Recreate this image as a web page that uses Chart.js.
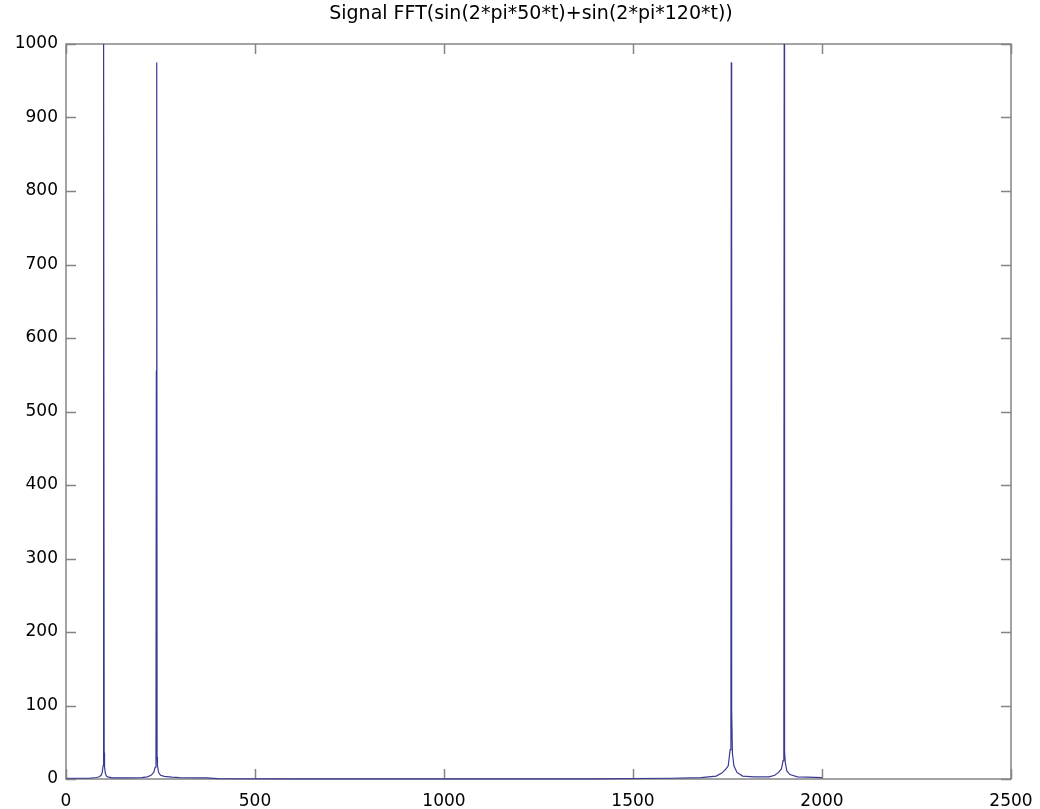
<!DOCTYPE html>
<html>
<head>
<meta charset="utf-8">
<script src="https://cdn.jsdelivr.net/npm/chart.js@4/dist/chart.umd.min.js"></script>
<style>
  html, body { margin: 0; padding: 0; background: #fff; }
  #wrap { width: 1040px; height: 809px; position: relative; }
</style>
</head>
<body>
<div id="wrap"><canvas id="fftChart"></canvas></div>
<script>
// FFT magnitude of sin(2*pi*50*t)+sin(2*pi*120*t), 2000 bins (only the bins where the shape changes)
const bins = [
  1, 60, 80, 88, 93, 96, 98, 99, 100, 101, 102, 104, 107, 112, 125, 160,
  200, 215, 225, 232, 236, 238, 239, 240, 241, 242, 245, 250, 260, 280, 300, 372,
  400, 600, 1000, 1400, 1600, 1680, 1720, 1735, 1745, 1752, 1757, 1759, 1760, 1761, 1763, 1767,
  1775, 1790, 1820, 1860, 1875, 1885, 1893, 1897, 1899, 1900, 1901, 1903, 1907, 1915, 1935, 1960, 2000
];
const magnitude = [
  1, 1, 2, 3, 5, 9, 18, 38, 1000, 36, 16, 8, 4, 2.5, 1.5, 1.5,
  2, 3, 5, 9, 16, 35, 555, 975, 30, 18, 9, 5, 3.5, 2.5, 2, 1.5,
  0.5, 0.3, 0.2, 0.3, 1, 2, 4, 8, 13, 18, 40, 100, 975, 95, 35, 18,
  9, 4, 3, 3, 5, 9, 14, 25, 37, 1000, 37, 22, 11, 6, 3, 2.5, 2
];

const titleText = 'Signal FFT(sin(2*pi*50*t)+sin(2*pi*120*t))';
const xTicks = [0, 500, 1000, 1500, 2000, 2500];
const yTicks = [0, 100, 200, 300, 400, 500, 600, 700, 800, 900, 1000];

const axisColor = '#858585';
const lineColor = 'rgb(58, 58, 145)';
const tickLen = 10;

const points = bins.map((b, i) => ({ x: b, y: magnitude[i] }));

// box around the axes with inward tick marks on all four sides, plus the title
const boxAxes = {
  id: 'boxAxes',
  beforeDatasetsDraw(chart) {
    const { ctx, chartArea: a, scales: { x, y } } = chart;
    ctx.save();
    ctx.strokeStyle = axisColor;
    ctx.lineWidth = 1.5;
    ctx.strokeRect(a.left, a.top, a.right - a.left, a.bottom - a.top);
    ctx.beginPath();
    xTicks.forEach(v => {
      const px = Math.round(x.getPixelForValue(v)) + 0.5;
      ctx.moveTo(px, a.bottom); ctx.lineTo(px, a.bottom - tickLen);
      ctx.moveTo(px, a.top); ctx.lineTo(px, a.top + tickLen);
    });
    yTicks.forEach(v => {
      const py = Math.round(y.getPixelForValue(v)) + 0.5;
      ctx.moveTo(a.left, py); ctx.lineTo(a.left + tickLen, py);
      ctx.moveTo(a.right, py); ctx.lineTo(a.right - tickLen, py);
    });
    ctx.stroke();

    ctx.fillStyle = '#000';
    ctx.font = '19px "DejaVu Sans"';
    ctx.textAlign = 'center';
    ctx.textBaseline = 'alphabetic';
    ctx.fillText(titleText, 531, 19);
    ctx.restore();
  }
};

const tickFont = { family: 'DejaVu Sans', size: 17 };

const ctx = document.getElementById('fftChart').getContext('2d');
new Chart(ctx, {
  type: 'scatter',
  data: {
    datasets: [{
      data: points,
      showLine: true,
      borderColor: lineColor,
      borderWidth: 1.2,
      pointRadius: 0,
      tension: 0,
      clip: 3
    }]
  },
  options: {
    responsive: true,
    maintainAspectRatio: false,
    animation: false,
    layout: { padding: { left: 0, right: 29, top: 44, bottom: 0 } },
    plugins: {
      legend: { display: false },
      tooltip: { enabled: false },
      title: { display: false }
    },
    scales: {
      x: {
        type: 'linear',
        min: 0,
        max: 2500,
        afterFit: s => { s.height = 30; s.paddingRight = 0; s.paddingLeft = 0; },
        afterBuildTicks: s => { s.ticks = xTicks.map(v => ({ value: v })); },
        grid: { display: false, drawTicks: false },
        border: { display: false },
        ticks: { color: '#000', font: tickFont, padding: 12, maxRotation: 0, callback: v => String(v) }
      },
      y: {
        type: 'linear',
        min: 0,
        max: 1000,
        afterFit: s => { s.width = 66; },
        afterBuildTicks: s => { s.ticks = yTicks.map(v => ({ value: v })); },
        grid: { display: false, drawTicks: false },
        border: { display: false },
        ticks: { color: '#000', font: tickFont, padding: 8, callback: v => String(v) }
      }
    }
  },
  plugins: [boxAxes]
});
</script>
</body>
</html>
